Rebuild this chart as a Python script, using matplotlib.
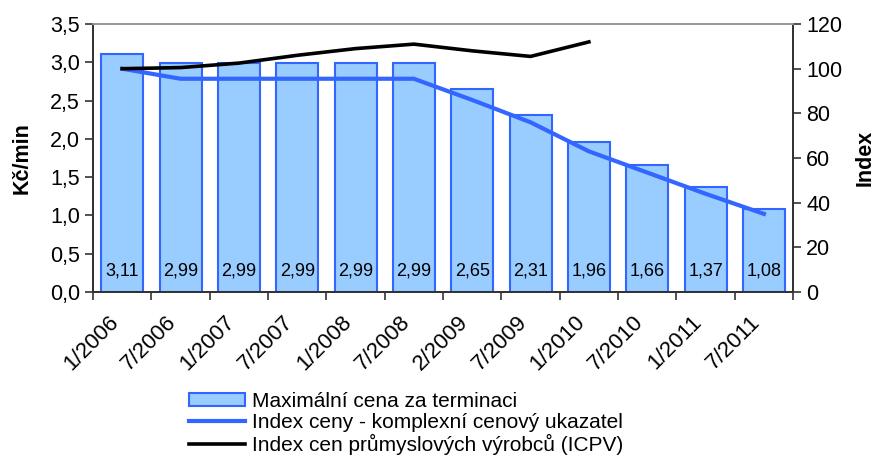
import matplotlib.pyplot as plt
import matplotlib.transforms as mtransforms
import numpy as np

plt.rcParams['font.family'] = ['Liberation Sans', 'DejaVu Sans']

# data
periods = ['1/2006', '7/2006', '1/2007', '7/2007', '1/2008', '7/2008',
           '2/2009', '7/2009', '1/2010', '7/2010', '1/2011', '7/2011']
max_price = [3.11, 2.99, 2.99, 2.99, 2.99, 2.99, 2.65, 2.31, 1.96, 1.66, 1.37, 1.08]
price_index = [100, 95.5, 95.5, 95.5, 95.5, 95.5, 86, 76, 63, 53.5, 44, 35]
icpv_index = [100, 100.5, 102.5, 106, 109, 111, 108, 105.5, 112,
              np.nan, np.nan, np.nan]

blue = '#3366FF'
fill = '#99CCFF'

fig = plt.figure(figsize=(8.8, 4.57), dpi=100)
ax = fig.add_axes([0.1057, 0.361, 0.7955, 0.5864])
ax2 = ax.twinx()

x = np.arange(len(periods))
bars = ax.bar(x, max_price, width=0.72, color=fill, edgecolor=blue, linewidth=1.5,
              label='Maximální cena za terminaci', zorder=2)
for xi, v in zip(x, max_price):
    ax.annotate(('%.2f' % v).replace('.', ','), (xi, 0), xytext=(0, 15),
                textcoords='offset points', ha='center', va='center', fontsize=13)

l1, = ax2.plot(x, price_index, color=blue, lw=3, label='Index ceny - komplexní cenový ukazatel')
l2, = ax2.plot(x, icpv_index, color='black', lw=2.6, label='Index cen průmyslových výrobců (ICPV)')

ax.set_xlim(-0.5, len(periods) - 0.5)
ax.set_ylim(0, 3.5)
ax2.set_ylim(0, 120)
ax.set_yticks(np.arange(0, 3.51, 0.5))
ax.set_yticklabels([('%.1f' % t).replace('.', ',') for t in np.arange(0, 3.51, 0.5)])
ax2.set_yticks(range(0, 121, 20))

ax.set_xticks(x)
ax.set_xticks(np.arange(-0.5, len(periods) - 0.4, 1), minor=True)
ax.tick_params(axis='x', which='major', length=0)
ax.tick_params(axis='x', which='minor', length=6, width=1.2, color='#333333')
ax.set_xticklabels(periods, rotation=45, ha='right', va='center',
                   rotation_mode='anchor', fontsize=16)
offset = mtransforms.ScaledTranslation(-0.07, -0.22, fig.dpi_scale_trans)
for lab in ax.get_xticklabels():
    lab.set_transform(lab.get_transform() + offset)

ax.tick_params(axis='y', labelsize=15.5, length=6, width=1.2, color='#333333')
ax2.tick_params(axis='y', labelsize=15.5, length=6, width=1.2, color='#333333')

ax.set_ylabel('Kč/min', fontsize=15.5, fontweight='bold', labelpad=12)
ax2.set_ylabel('Index', fontsize=15.5, fontweight='bold', labelpad=9)

for a in (ax, ax2):
    a.spines['top'].set_color('#999999')
    a.spines['left'].set_color('#333333')
    a.spines['right'].set_color('#333333')
    a.spines['bottom'].set_color('#333333')
    for s in a.spines.values():
        s.set_linewidth(1.3)

fig.legend(handles=[bars, l1, l2], loc='upper left', bbox_to_anchor=(0.215, 0.142),
           bbox_transform=fig.transFigure, frameon=False, fontsize=15,
           handlelength=2.7, handleheight=0.6, handletextpad=0.3,
           labelspacing=0.1, borderpad=0, borderaxespad=0)

fig.savefig('out.png', dpi=100)
